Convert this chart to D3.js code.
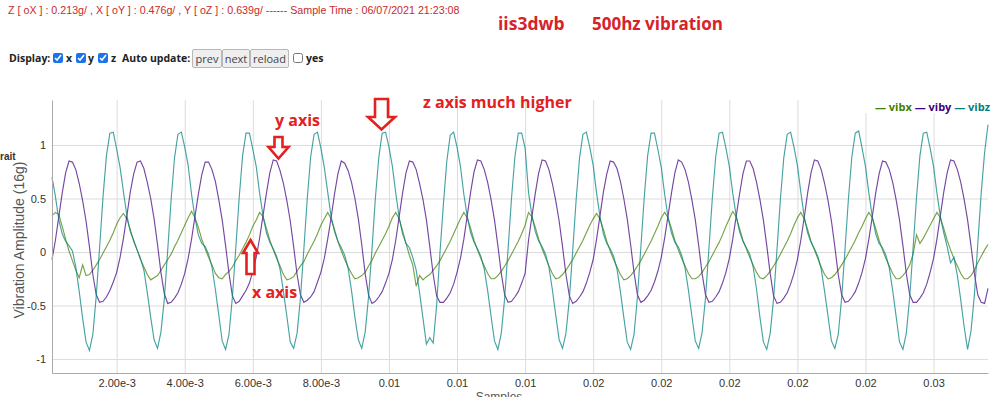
<!DOCTYPE html>
<html>
<head>
<meta charset="utf-8">
<script src="https://cdn.jsdelivr.net/npm/d3@7"></script>
<style>
body { margin:0; width:999px; height:397px; overflow:hidden; background:#fff; position:relative; }
#chart { position:absolute; left:0; top:0; }
.ctl { position:absolute; font-family:"Open Sans", sans-serif; font-size:10.5px; line-height:12px; color:#222; }
.lbl { font-weight:bold; }
.cb { position:absolute; width:10px; height:10px; margin:0; accent-color:#1a73e8; }
.btn { position:absolute; height:19px; top:49px; padding:0; font-family:"Open Sans", sans-serif; font-size:11px; color:#444;
       background:#efefef; border:1px solid #b8b8b8; border-radius:2px; }
.grid line { stroke:#dcdcdc; }
.grid path { display:none; }
.axis text { font-family:"Liberation Sans", Arial, sans-serif; font-size:11px; fill:#333; }
.axis path { stroke:#aaa; }
</style>
</head>
<body>
<div id="chart"></div>
<span class="ctl lbl" style="left:9px;top:52px;">Display:</span>
<input type="checkbox" class="cb" checked style="left:53px;top:53px;">
<span class="ctl lbl" style="left:66px;top:52px;">x</span>
<input type="checkbox" class="cb" checked style="left:76px;top:53px;">
<span class="ctl lbl" style="left:88px;top:52px;">y</span>
<input type="checkbox" class="cb" checked style="left:98px;top:53px;">
<span class="ctl lbl" style="left:111px;top:52px;">z</span>
<span class="ctl lbl" style="left:122px;top:52px;">Auto update:</span>
<button class="btn" style="left:192px;width:30px;">prev</button>
<button class="btn" style="left:222px;width:28px;">next</button>
<button class="btn" style="left:250px;width:39px;">reload</button>
<input type="checkbox" class="cb" style="left:293px;top:53px;">
<span class="ctl lbl" style="left:306px;top:52px;">yes</span>
<script>
var sampleStep = 0.0001;

var vibx = [
  0.34, 0.37, 0.35, 0.24, 0.12, 0.01, -0.08, -0.17, -0.24, -0.12, -0.22, -0.21, -0.17, -0.12, -0.07, -0.01, 0.05, 0.11, 0.18, 0.26,
  0.32, 0.36, 0.31, 0.21, 0.10, 0.02, -0.07, -0.14, -0.21, -0.26, -0.24, -0.22, -0.17, -0.12, -0.07, -0.02, 0.05, 0.11, 0.18, 0.25,
  0.32, 0.38, 0.32, 0.23, 0.12, 0.03, -0.05, -0.12, -0.20, -0.24, -0.25, -0.21, -0.18, -0.14, -0.08, -0.03, 0.03, 0.09, 0.16, 0.24,
  0.30, 0.37, 0.33, 0.22, 0.11, 0.02, -0.06, -0.13, -0.21, -0.26, -0.25, -0.23, -0.18, -0.13, -0.09, -0.02, 0.04, 0.10, 0.17, 0.25,
  0.31, 0.37, 0.31, 0.21, 0.10, 0.01, -0.07, -0.14, -0.20, -0.25, -0.24, -0.22, -0.19, -0.13, -0.08, -0.01, 0.05, 0.11, 0.17, 0.24,
  0.32, 0.37, 0.31, 0.20, 0.08, -0.03, -0.12, -0.32, -0.22, -0.26, -0.23, -0.21, -0.17, -0.13, -0.08, -0.02, 0.04, 0.10, 0.17, 0.24,
  0.31, 0.37, 0.32, 0.22, 0.11, 0.02, -0.06, -0.13, -0.20, -0.25, -0.25, -0.22, -0.18, -0.13, -0.08, -0.02, 0.04, 0.10, 0.17, 0.25,
  0.37, 0.33, 0.23, 0.12, 0.03, -0.05, -0.13, -0.20, -0.25, -0.24, -0.21, -0.17, -0.12, -0.07, -0.01, 0.05, 0.11, 0.18, 0.25, 0.31,
  0.36, 0.31, 0.21, 0.10, 0.01, -0.07, -0.14, -0.21, -0.26, -0.25, -0.22, -0.18, -0.13, -0.08, -0.02, 0.04, 0.10, 0.17, 0.24, 0.32,
  0.37, 0.32, 0.22, 0.11, 0.02, -0.06, -0.13, -0.20, -0.25, -0.25, -0.23, -0.19, -0.14, -0.09, -0.03, 0.03, 0.09, 0.16, 0.24, 0.31,
  0.38, 0.33, 0.22, 0.11, 0.03, -0.05, -0.12, -0.19, -0.24, -0.25, -0.22, -0.18, -0.13, -0.08, -0.02, 0.04, 0.10, 0.17, 0.25, 0.32,
  0.37, 0.31, 0.21, 0.10, 0.02, -0.06, -0.14, -0.21, -0.25, -0.24, -0.21, -0.17, -0.12, -0.07, -0.01, 0.05, 0.11, 0.18, 0.24, 0.31,
  0.37, 0.32, 0.22, 0.11, 0.02, -0.06, -0.13, -0.20, -0.25, -0.25, -0.22, -0.18, -0.12, -0.02, 0.16, 0.08, 0.13, 0.19, 0.25, 0.31,
  0.37, 0.32, 0.22, 0.11, 0.02, -0.06, -0.13, -0.20, -0.25, -0.25, -0.22, -0.17, -0.10, -0.04, 0.02, 0.07
];

var viby = [
  -0.07, 0.11, 0.33, 0.55, 0.74, 0.85, 0.84, 0.77, 0.64, 0.48, 0.29, 0.05, -0.21, -0.40, -0.47, -0.46, -0.42, -0.36, -0.28, -0.19,
  -0.05, 0.13, 0.34, 0.56, 0.73, 0.84, 0.85, 0.78, 0.65, 0.50, 0.31, 0.07, -0.19, -0.39, -0.48, -0.47, -0.43, -0.38, -0.30, -0.20,
  -0.06, 0.12, 0.33, 0.54, 0.72, 0.84, 0.84, 0.77, 0.66, 0.49, 0.30, 0.06, -0.20, -0.41, -0.48, -0.46, -0.41, -0.36, -0.29, -0.18,
  -0.05, 0.13, 0.34, 0.55, 0.74, 0.86, 0.85, 0.76, 0.64, 0.48, 0.29, 0.05, -0.21, -0.40, -0.47, -0.45, -0.42, -0.37, -0.28, -0.19,
  -0.06, 0.12, 0.32, 0.54, 0.73, 0.85, 0.83, 0.76, 0.65, 0.50, 0.31, 0.07, -0.20, -0.40, -0.48, -0.46, -0.42, -0.37, -0.29, -0.20,
  -0.07, 0.11, 0.33, 0.55, 0.74, 0.85, 0.84, 0.77, 0.64, 0.49, 0.30, 0.05, -0.21, -0.41, -0.47, -0.47, -0.43, -0.38, -0.30, -0.19,
  -0.06, 0.12, 0.34, 0.56, 0.75, 0.86, 0.85, 0.77, 0.65, 0.49, 0.30, 0.06, -0.20, -0.40, -0.47, -0.46, -0.42, -0.37, -0.29, -0.20,
  0.11, 0.33, 0.55, 0.74, 0.86, 0.85, 0.77, 0.64, 0.48, 0.29, 0.05, -0.21, -0.41, -0.48, -0.46, -0.42, -0.37, -0.29, -0.19, -0.07,
  0.12, 0.34, 0.56, 0.73, 0.85, 0.84, 0.78, 0.66, 0.50, 0.31, 0.07, -0.19, -0.40, -0.47, -0.45, -0.41, -0.36, -0.28, -0.18, -0.05,
  0.13, 0.34, 0.55, 0.74, 0.86, 0.84, 0.77, 0.65, 0.49, 0.30, 0.06, -0.20, -0.40, -0.47, -0.46, -0.42, -0.37, -0.29, -0.19, -0.06,
  0.12, 0.33, 0.54, 0.73, 0.85, 0.85, 0.78, 0.65, 0.49, 0.30, 0.06, -0.20, -0.41, -0.48, -0.47, -0.43, -0.38, -0.30, -0.20, -0.07,
  0.11, 0.32, 0.55, 0.74, 0.86, 0.85, 0.77, 0.64, 0.48, 0.29, 0.05, -0.21, -0.40, -0.47, -0.46, -0.42, -0.37, -0.29, -0.19, -0.06,
  0.12, 0.33, 0.55, 0.73, 0.85, 0.84, 0.77, 0.65, 0.49, 0.30, 0.06, -0.20, -0.40, -0.47, -0.47, -0.43, -0.38, -0.30, -0.19, -0.06,
  0.12, 0.34, 0.56, 0.74, 0.86, 0.85, 0.77, 0.65, 0.49, 0.30, 0.06, -0.20, -0.40, -0.47, -0.48, -0.34
];

var vibz = [
  0.70, 0.52, 0.30, 0.17, 0.10, 0.06, 0.01, -0.14, -0.37, -0.62, -0.84, -0.92, -0.77, -0.41, 0.05, 0.52, 0.90, 1.11, 1.12, 0.96,
  0.79, 0.56, 0.34, 0.19, 0.11, 0.02, -0.06, -0.17, -0.38, -0.61, -0.82, -0.90, -0.75, -0.44, 0.02, 0.49, 0.88, 1.10, 1.12, 0.98,
  0.81, 0.54, 0.32, 0.16, 0.08, 0.05, -0.02, -0.14, -0.35, -0.59, -0.83, -0.91, -0.77, -0.42, 0.04, 0.51, 0.90, 1.11, 1.11, 0.96,
  0.80, 0.55, 0.34, 0.18, 0.09, 0.03, -0.04, -0.16, -0.37, -0.60, -0.84, -0.90, -0.76, -0.43, 0.03, 0.50, 0.89, 1.10, 1.12, 0.97,
  0.79, 0.56, 0.33, 0.19, 0.10, 0.04, -0.03, -0.15, -0.36, -0.61, -0.82, -0.90, -0.75, -0.42, 0.02, 0.50, 0.88, 1.11, 1.12, 0.98,
  0.80, 0.55, 0.32, 0.17, 0.08, 0.04, -0.05, -0.17, -0.38, -0.62, -0.86, -0.80, -0.85, -0.50, 0.00, 0.45, 0.85, 1.09, 1.12, 0.98,
  0.80, 0.54, 0.33, 0.18, 0.09, 0.03, -0.04, -0.16, -0.36, -0.60, -0.83, -0.91, -0.76, -0.43, 0.03, 0.50, 0.89, 1.11, 1.11, 0.97,
  0.56, 0.34, 0.19, 0.10, 0.05, -0.02, -0.14, -0.35, -0.59, -0.82, -0.90, -0.76, -0.44, 0.02, 0.49, 0.88, 1.10, 1.12, 0.98, 0.81,
  0.55, 0.33, 0.17, 0.08, 0.03, -0.04, -0.16, -0.37, -0.61, -0.84, -0.91, -0.77, -0.42, 0.04, 0.51, 0.90, 1.11, 1.11, 0.96, 0.79,
  0.54, 0.32, 0.18, 0.09, 0.05, -0.03, -0.15, -0.36, -0.60, -0.83, -0.90, -0.75, -0.43, 0.03, 0.50, 0.89, 1.11, 1.12, 0.97, 0.80,
  0.55, 0.34, 0.19, 0.10, 0.04, -0.02, -0.14, -0.35, -0.61, -0.84, -0.91, -0.76, -0.44, 0.02, 0.49, 0.88, 1.10, 1.12, 0.98, 0.81,
  0.56, 0.33, 0.18, 0.09, 0.03, -0.04, -0.16, -0.37, -0.60, -0.83, -0.90, -0.77, -0.43, 0.03, 0.50, 0.89, 1.11, 1.13, 0.97, 0.80,
  0.55, 0.33, 0.17, 0.08, 0.04, -0.03, -0.15, -0.36, -0.60, -0.84, -0.91, -0.76, -0.42, 0.04, 0.51, 0.90, 1.11, 1.12, 0.97, 0.80,
  0.55, 0.33, 0.18, 0.05, -0.10, -0.05, -0.22, -0.45, -0.70, -0.91, -0.74, -0.40, 0.08, 0.55, 0.93, 1.19
];

var seriesNames = ["vibx", "viby", "vibz"];
var seriesColors = ["#408000", "#400080", "#008080"];
var xTicks = [0.002, 0.004, 0.006, 0.008, 0.010, 0.012, 0.014, 0.016, 0.018, 0.020, 0.022, 0.024, 0.026];
var yTicks = [-1, -0.5, 0, 0.5, 1];

(function(){
var samples = vibx.map(function(d, i){ return (i + 1) * sampleStep; });

var svg = d3.select("#chart").append("svg").attr("width", 999).attr("height", 397);

var pl = 52, pr = 988, pt = 100, pb = 373;
var x = d3.scaleLinear().domain([samples[0], samples[samples.length - 1]]).range([pl, pr]);
var y = d3.scaleLinear().domain([-1.13, 1.42]).range([pb, pt]);

// dygraphs like number labels
function fmtX(d){
    if (d < 0.0099) return d.toExponential(2);
    return d.toFixed(2);
}

// header texts
svg.append("text").attr("x", 8).attr("y", 13.5)
    .attr("font-family", "Liberation Sans, Arial, sans-serif").attr("font-size", "10.7px").attr("fill", "#c62b2b")
    .text("Z [ oX ] : 0.213g/ , X [ oY ] : 0.476g/ , Y [ oZ ] : 0.639g/ ------ Sample Time : 06/07/2021 21:23:08");
svg.append("text").attr("x", 498).attr("y", 30)
    .attr("font-family", "Open Sans, sans-serif").attr("font-weight", "bold").attr("font-size", "17.5px").attr("fill", "#d6232a")
    .text("iis3dwb");
svg.append("text").attr("x", 592).attr("y", 30)
    .attr("font-family", "Open Sans, sans-serif").attr("font-weight", "bold").attr("font-size", "17px").attr("fill", "#d6232a")
    .text("500hz vibration");

// grid
svg.append("g").attr("class", "grid").attr("transform", "translate(0," + pb + ")")
    .call(d3.axisBottom(x).tickValues(xTicks).tickSize(-(pb - pt)).tickFormat(""));
svg.append("g").attr("class", "grid").attr("transform", "translate(" + pl + ",0)")
    .call(d3.axisLeft(y).tickValues(yTicks).tickSize(-(pr - pl)).tickFormat(""));

// lines
var line = d3.line()
    .x(function(d, i){ return x(samples[i]); })
    .y(function(d){ return y(d); });
[vibx, viby, vibz].forEach(function(s, j){
    svg.append("path").datum(s)
        .attr("d", line)
        .attr("fill", "none")
        .attr("stroke", seriesColors[j])
        .attr("stroke-opacity", 0.72)
        .attr("stroke-width", 1.15);
});

// axes
svg.append("g").attr("class", "axis").attr("transform", "translate(0," + pb + ")")
    .call(d3.axisBottom(x).tickValues(xTicks).tickSize(0).tickSizeOuter(0).tickPadding(6).tickFormat(fmtX));
svg.append("g").attr("class", "axis").attr("transform", "translate(" + pl + ",0)")
    .call(d3.axisLeft(y).tickValues(yTicks).tickSize(0).tickSizeOuter(0).tickPadding(6).tickFormat(function(d){ return String(d); }));

// axis titles
svg.append("text").attr("transform", "translate(24,240) rotate(-90)")
    .attr("text-anchor", "middle").attr("font-family", "Liberation Sans, Arial, sans-serif")
    .attr("font-size", "14px").attr("fill", "#555").text("Vibration Amplitude (16g)");
svg.append("text").attr("x", 499).attr("y", 401).attr("text-anchor", "middle")
    .attr("font-family", "Liberation Sans, Arial, sans-serif").attr("font-size", "12px").attr("fill", "#555").text("Samples");
svg.append("text").attr("x", 0).attr("y", 160)
    .attr("font-family", "Liberation Sans, Arial, sans-serif").attr("font-weight", "bold")
    .attr("font-size", "10px").attr("fill", "#333").text("rait");

// legend
svg.append("rect").attr("x", 862).attr("y", pt).attr("width", 134).attr("height", 13).attr("fill", "#fff");
var leg = svg.append("text").attr("x", 875).attr("y", 111)
    .attr("font-family", "Open Sans, sans-serif").attr("font-weight", "bold").attr("font-size", "11px");
seriesNames.forEach(function(n, j){
    leg.append("tspan").attr("fill", seriesColors[j]).text((j ? " " : "") + "\u2014 " + n);
});

// annotations
var red = "#e3211f";
function note(tx, ty, txt){
    svg.append("text").attr("x", tx).attr("y", ty)
        .attr("font-family", "Open Sans, sans-serif").attr("font-weight", "bold")
        .attr("font-size", "16px").attr("fill", red).text(txt);
}
function arrow(p){
    svg.append("path").attr("d", p).attr("fill", "#fff").attr("stroke", red)
        .attr("stroke-width", 2.6).attr("stroke-linejoin", "miter");
}
note(275, 126, "y axis");
arrow("M274.5,137 H282.5 V147 H288.5 L278.5,158.5 L268.5,147 H274.5 Z");
note(423, 108, "z axis much higher");
arrow("M375,99 H388 V117 H395 L381.5,129.5 L368,117 H375 Z");
note(252, 298, "x axis");
arrow("M250.5,240 L258,253 H254.5 V274 H246.5 V253 H243 Z");
})();
</script>
</body>
</html>
